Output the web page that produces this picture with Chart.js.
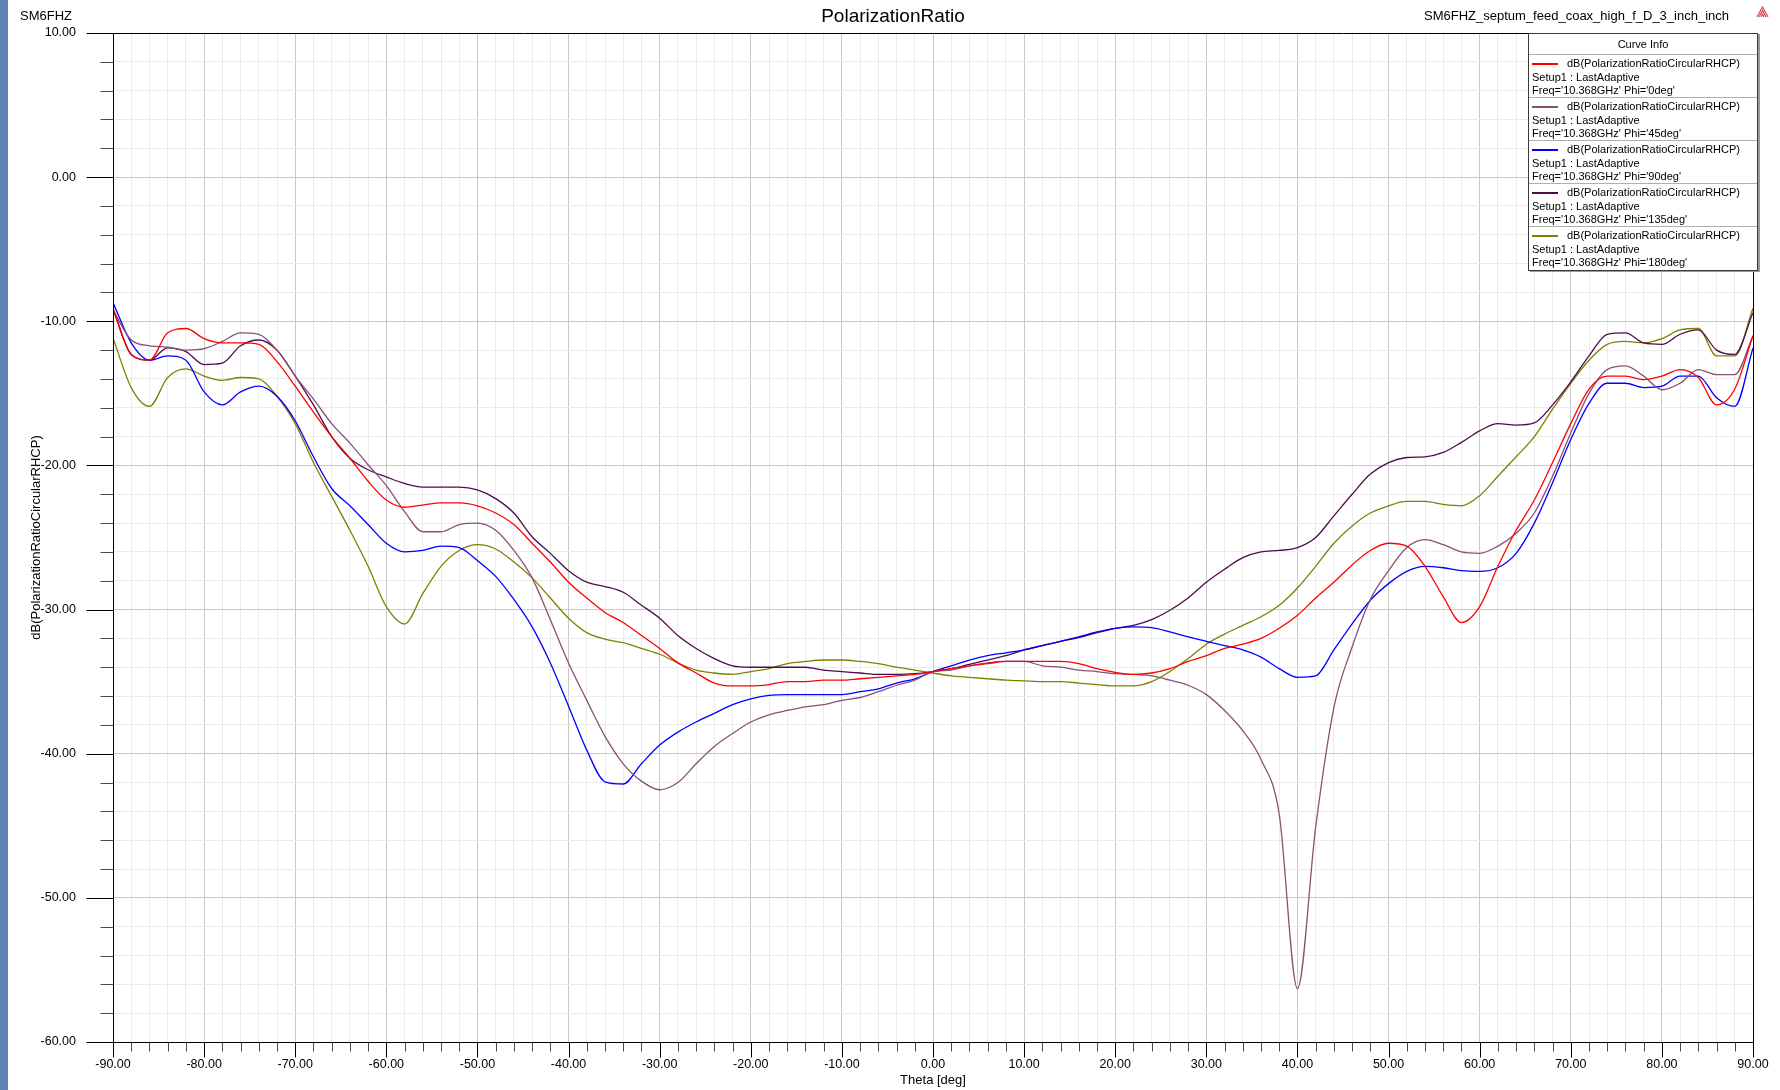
<!DOCTYPE html>
<html>
<head>
<meta charset="utf-8">
<title>PolarizationRatio</title>
<script src="https://cdn.jsdelivr.net/npm/chart.js@4.4.1/dist/chart.umd.min.js"></script>
<style>
    body {
        margin: 0;
        background: #fff;
        overflow: hidden;
        font-family: "Liberation Sans", Arial, sans-serif;
    }

    #contenido {
        position: relative;
        width: 1780px;
        height: 1090px;
    }

    #leyenda {
        position: absolute;
        left: 1528px;
        top: 33px;
        width: 230px;
        box-sizing: border-box;
        background: #fff;
        border: 1px solid #3a3a3a;
        box-shadow: 2px 1px 0 #9a9a9a;
        font-size: 11px;
        color: #000;
    }

    #leyenda .cabecera {
        height: 20px;
        line-height: 20px;
        text-align: center;
        border-bottom: 1px solid #b0b0b0;
    }

    #leyenda .curva {
        height: 43px;
        padding: 2px 0 0 3px;
        box-sizing: border-box;
        line-height: 13.5px;
        border-bottom: 1px solid #b0b0b0;
        white-space: nowrap;
    }

    #leyenda .curva:last-child {
        border-bottom: none;
    }

    #leyenda .muestra {
        display: inline-block;
        width: 26px;
        height: 2px;
        margin-right: 9px;
        vertical-align: middle;
    }
</style>
</head>
<body>
<div id="contenido">
    <canvas id="diagramaPolarizacion" width="1780" height="1090"></canvas>
    <div id="leyenda"></div>
</div>

<script>
// angulo theta en grados, un punto cada 2 grados
const theta = [
    -90, -88, -86, -84, -82, -80, -78, -76, -74, -72,
    -70, -68, -66, -64, -62, -60, -58, -56, -54, -52,
    -50, -48, -46, -44, -42, -40, -38, -36, -34, -32,
    -30, -28, -26, -24, -22, -20, -18, -16, -14, -12,
    -10, -8, -6, -4, -2, 0, 2, 4, 6, 8,
    10, 12, 14, 16, 18, 20, 22, 24, 26, 28,
    30, 32, 34, 36, 38, 40, 42, 44, 46, 48,
    50, 52, 54, 56, 58, 60, 62, 64, 66, 68,
    70, 72, 74, 76, 78, 80, 82, 84, 86, 88,
    90
];

// dB(PolarizationRatioCircularRHCP) para cada corte phi
const phi0 = [
    -9.2, -12.3, -12.7, -10.8, -10.5, -11.2, -11.5, -11.5, -11.6, -12.8,
    -14.5, -16.3, -18.0, -19.5, -21.1, -22.4, -22.9, -22.75, -22.6, -22.6,
    -22.8, -23.3, -24.1, -25.4, -26.7, -28.1, -29.2, -30.2, -30.9, -31.8,
    -32.7, -33.7, -34.4, -35.1, -35.3, -35.3, -35.2, -35.0, -35.0, -34.9,
    -34.9, -34.8, -34.7, -34.6, -34.5, -34.3, -34.1, -33.9, -33.75, -33.6,
    -33.6, -33.6, -33.6, -33.75, -34.1, -34.35, -34.5, -34.4, -34.1, -33.6,
    -33.2, -32.7, -32.4, -32.0, -31.3, -30.4, -29.2, -28.1, -26.9, -25.9,
    -25.4, -25.6, -27.0, -29.1, -30.9, -29.8, -27.0, -24.5, -22.4, -19.8,
    -17.1, -14.7, -13.8, -13.8, -14.05, -13.8, -13.35, -13.9, -15.8, -14.7,
    -11.0
];

const phi45 = [
    -9.2, -11.3, -11.7, -11.8, -12.0, -11.9, -11.4, -10.8, -10.9, -12.0,
    -13.8, -15.4, -17.1, -18.45, -19.95, -21.4, -23.2, -24.6, -24.6, -24.1,
    -24.0, -24.5, -25.9, -27.8, -30.7, -33.7, -36.3, -38.8, -40.7, -41.9,
    -42.5, -42.0, -40.7, -39.5, -38.6, -37.8, -37.3, -37.0, -36.75, -36.6,
    -36.3, -36.1, -35.7, -35.25, -34.9, -34.3, -34.2, -33.9, -33.7, -33.6,
    -33.6, -33.9, -34.0, -34.2, -34.3, -34.45, -34.5, -34.6, -34.9, -35.25,
    -35.9, -37.0, -38.4, -40.4, -44.2, -56.3, -45.1, -36.8, -32.6, -29.3,
    -27.3, -25.7, -25.15, -25.5, -26.0, -26.1, -25.6, -24.7, -23.3, -20.75,
    -17.75, -15.0, -13.35, -13.1, -13.8, -14.75, -14.3, -13.35, -13.7, -13.7,
    -11.0
];

const phi90 = [
    -8.7, -11.5, -12.7, -12.4, -12.7, -14.9, -15.8, -14.9, -14.5, -15.2,
    -16.9, -19.4, -21.6, -22.8, -24.1, -25.4, -26.0, -25.9, -25.6, -25.7,
    -26.6, -27.7, -29.3, -31.2, -33.7, -36.7, -39.75, -41.95, -42.1, -40.7,
    -39.4, -38.5, -37.8, -37.2, -36.6, -36.2, -35.95, -35.9, -35.9, -35.9,
    -35.9, -35.7, -35.5, -35.1, -34.8, -34.3, -33.9, -33.5, -33.2, -33.0,
    -32.8, -32.5, -32.2, -31.9, -31.55, -31.3, -31.2, -31.25, -31.55, -31.9,
    -32.2, -32.5, -32.8, -33.3, -34.1, -34.7, -34.6, -32.8, -31.0, -29.35,
    -28.2, -27.35, -27.0, -27.1, -27.3, -27.35, -27.1, -26.1, -24.0, -21.2,
    -18.2, -15.7, -14.3, -14.3, -14.6, -14.5, -13.8, -13.8, -15.3, -15.9,
    -11.85
];

const phi135 = [
    -9.1, -12.3, -12.7, -11.85, -12.1, -13.0, -12.9, -11.7, -11.3, -12.0,
    -13.8, -15.8, -18.0, -19.5, -20.3, -20.8, -21.25, -21.5, -21.5, -21.5,
    -21.7, -22.3, -23.3, -24.95, -26.1, -27.3, -28.1, -28.4, -28.8, -29.7,
    -30.6, -31.8, -32.7, -33.4, -33.9, -34.0, -34.0, -34.0, -34.0, -34.2,
    -34.3, -34.4, -34.5, -34.5, -34.45, -34.3, -34.1, -33.8, -33.5, -33.2,
    -32.8, -32.5, -32.2, -31.95, -31.6, -31.3, -31.1, -30.7, -30.05, -29.2,
    -28.1, -27.2, -26.4, -26.0, -25.9, -25.7, -25.0, -23.5, -22.0, -20.6,
    -19.8, -19.45, -19.4, -19.1, -18.4, -17.6, -17.1, -17.2, -17.05, -15.8,
    -14.2, -12.4, -10.9, -10.8, -11.5, -11.6, -10.9, -10.6, -12.0, -12.3,
    -9.4
];

const phi180 = [
    -11.15, -14.6, -15.9, -13.9, -13.3, -13.8, -14.1, -13.9, -14.0, -15.2,
    -17.1, -19.8, -22.15, -24.5, -27.0, -29.8, -31.0, -28.9, -27.0, -25.9,
    -25.5, -25.8, -26.7, -27.8, -29.2, -30.6, -31.6, -32.05, -32.3, -32.7,
    -33.1, -33.7, -34.2, -34.4, -34.5, -34.3, -34.1, -33.75, -33.6, -33.5,
    -33.5, -33.6, -33.75, -34.0, -34.2, -34.4, -34.6, -34.7, -34.8, -34.9,
    -34.95, -35.0, -35.0, -35.1, -35.2, -35.3, -35.3, -35.0, -34.3, -33.4,
    -32.4, -31.7, -31.1, -30.5, -29.7, -28.5, -27.0, -25.4, -24.2, -23.3,
    -22.8, -22.5, -22.5, -22.7, -22.8, -22.1, -20.75, -19.4, -18.0, -16.1,
    -14.3, -12.7, -11.6, -11.4, -11.5, -11.2, -10.6, -10.5, -12.4, -12.4,
    -9.1
];

// etiquetas de los ejes
const ticksX = [-90, -80, -70, -60, -50, -40, -30, -20, -10, 0, 10, 20, 30, 40, 50, 60, 70, 80, 90];
const ticksY = [-60, -50, -40, -30, -20, -10, 0, 10];

const nombreCurva = 'dB(PolarizationRatioCircularRHCP)';
const textoSetup = 'Setup1 : LastAdaptive';
const frecuencia = '10.368GHz';
const cortesPhi = ['0deg', '45deg', '90deg', '135deg', '180deg'];
const colores = ['#ff0000', '#8a5078', '#0000ff', '#4e0c4e', '#808000'];

const fuente = '"Liberation Sans", Arial, sans-serif';

// fondo, franja azul, marco, marcas de los ejes y textos de cabecera
const decoracion = {
    id: 'decoracion',
    beforeDraw(chart) {
        let ctx = chart.ctx;
        ctx.save();
        ctx.fillStyle = '#fff';
        ctx.fillRect(0, 0, chart.width, chart.height);
        ctx.fillStyle = '#5f83b1';
        ctx.fillRect(0, 0, 8, chart.height);
        ctx.restore();
    },
    afterDraw(chart) {
        let ctx = chart.ctx;
        let area = chart.chartArea;
        let ejeX = chart.scales.x;
        let ejeY = chart.scales.y;
        let izq = Math.round(area.left) + 0.5;
        let der = Math.round(area.right) + 0.5;
        let arriba = Math.round(area.top) + 0.5;
        let abajo = Math.round(area.bottom) + 0.5;

        ctx.save();
        ctx.lineWidth = 1;

        // marcas del eje Y (largas en las decenas)
        ejeY.ticks.forEach(function (t) {
            let y = Math.round(ejeY.getPixelForValue(t.value)) + 0.5;
            let principal = ticksY.includes(t.value);
            ctx.strokeStyle = principal ? '#000' : '#4a4a4a';
            ctx.beginPath();
            ctx.moveTo(izq - (principal ? 27 : 13), y);
            ctx.lineTo(izq, y);
            ctx.stroke();
        });

        // marcas del eje X
        ejeX.ticks.forEach(function (t) {
            let x = Math.round(ejeX.getPixelForValue(t.value)) + 0.5;
            let principal = ticksX.includes(t.value);
            ctx.strokeStyle = principal ? '#000' : '#4a4a4a';
            ctx.beginPath();
            ctx.moveTo(x, abajo);
            ctx.lineTo(x, abajo + (principal ? 15 : 9));
            ctx.stroke();
        });

        // marco
        ctx.strokeStyle = '#000';
        ctx.beginPath();
        ctx.moveTo(izq, abajo);
        ctx.lineTo(izq, arriba);
        ctx.lineTo(der, arriba);
        ctx.lineTo(der, abajo);
        ctx.lineTo(izq, abajo);
        ctx.stroke();

        // textos de cabecera
        ctx.fillStyle = '#000';
        ctx.textBaseline = 'alphabetic';
        ctx.font = '13px ' + fuente;
        ctx.textAlign = 'left';
        ctx.fillText('SM6FHZ', 20, 20);
        ctx.textAlign = 'right';
        ctx.fillText('SM6FHZ_septum_feed_coax_high_f_D_3_inch_inch', 1729, 20);
        ctx.font = '19px ' + fuente;
        ctx.textAlign = 'center';
        ctx.fillText('PolarizationRatio', 893, 22);

        // logo pequeño arriba a la derecha
        ctx.strokeStyle = '#d84848';
        ctx.lineWidth = 1.2;
        for (let k = 0; k < 3; k++) {
            ctx.beginPath();
            ctx.moveTo(1757 + k * 2, 17);
            ctx.lineTo(1762.5, 7 + k * 3.5);
            ctx.lineTo(1768 - k * 2, 17);
            ctx.stroke();
        }
        ctx.restore();
    }
};

function crearDatasets() {
    let series = [phi0, phi45, phi90, phi135, phi180];
    return series.map(function (valores, i) {
        return {
            label: nombreCurva,
            data: theta.map(function (t, j) {
                return { x: t, y: valores[j] };
            }),
            borderColor: colores[i],
            backgroundColor: colores[i],
            borderWidth: 1.3,
            pointRadius: 0,
            cubicInterpolationMode: 'monotone',
            fill: false
        };
    });
}

function dibujarDiagrama() {
    let canvas = document.getElementById('diagramaPolarizacion');

    let diagrama = new Chart(canvas, {
        type: 'line',
        data: {
            datasets: crearDatasets()
        },
        options: {
            responsive: false,
            animation: false,
            devicePixelRatio: 1,
            layout: {
                padding: { left: 0, right: 27, top: 33, bottom: 0 }
            },
            plugins: {
                legend: { display: false },
                title: { display: false },
                tooltip: { enabled: false }
            },
            scales: {
                x: {
                    type: 'linear',
                    min: -90,
                    max: 90,
                    // alto fijo y sin margen extra para las etiquetas de los extremos
                    afterFit: function (scale) {
                        scale.height = 48;
                        scale.paddingLeft = 0;
                        scale.paddingRight = 0;
                    },
                    ticks: {
                        stepSize: 2,
                        autoSkip: false,
                        maxTicksLimit: 200,
                        maxRotation: 0,
                        minRotation: 0,
                        padding: 15,
                        color: '#000',
                        font: { family: fuente, size: 12.5 },
                        callback: function (valor) {
                            return ticksX.includes(valor) ? valor.toFixed(2) : '';
                        }
                    },
                    grid: {
                        drawTicks: false,
                        lineWidth: 1,
                        color: function (c) {
                            return c.tick && ticksX.includes(c.tick.value) ? '#c8c8c8' : '#ebebeb';
                        }
                    },
                    border: { color: '#000', width: 1 },
                    title: {
                        display: true,
                        text: 'Theta [deg]',
                        color: '#000',
                        font: { family: fuente, size: 13 },
                        padding: { top: 0, bottom: 2 }
                    }
                },
                y: {
                    type: 'linear',
                    min: -60,
                    max: 10,
                    afterFit: function (scale) {
                        scale.width = 113;
                        scale.paddingTop = 0;
                        scale.paddingBottom = 0;
                    },
                    ticks: {
                        stepSize: 2,
                        autoSkip: false,
                        maxTicksLimit: 200,
                        padding: 37,
                        color: '#000',
                        font: { family: fuente, size: 12.5 },
                        callback: function (valor) {
                            return ticksY.includes(valor) ? valor.toFixed(2) : '';
                        }
                    },
                    grid: {
                        drawTicks: false,
                        lineWidth: 1,
                        color: function (c) {
                            return c.tick && ticksY.includes(c.tick.value) ? '#c8c8c8' : '#ebebeb';
                        }
                    },
                    border: { color: '#000', width: 1 },
                    title: {
                        display: true,
                        text: nombreCurva,
                        color: '#000',
                        font: { family: fuente, size: 13 },
                        padding: { top: 29, bottom: 0 }
                    }
                }
            }
        },
        plugins: [decoracion]
    });

    crearLeyenda(diagrama);
}

// cuadro "Curve Info" hecho con los datasets del grafico
function crearLeyenda(diagrama) {
    let html = '<div class="cabecera">Curve Info</div>';
    diagrama.data.datasets.forEach(function (ds, i) {
        html += '<div class="curva">' +
            '<div><span class="muestra" style="background:' + ds.borderColor + '"></span>' + ds.label + '</div>' +
            '<div>' + textoSetup + '</div>' +
            "<div>Freq='" + frecuencia + "' Phi='" + cortesPhi[i] + "'</div>" +
            '</div>';
    });
    document.getElementById('leyenda').innerHTML = html;
}

dibujarDiagrama();
</script>
</body>
</html>
